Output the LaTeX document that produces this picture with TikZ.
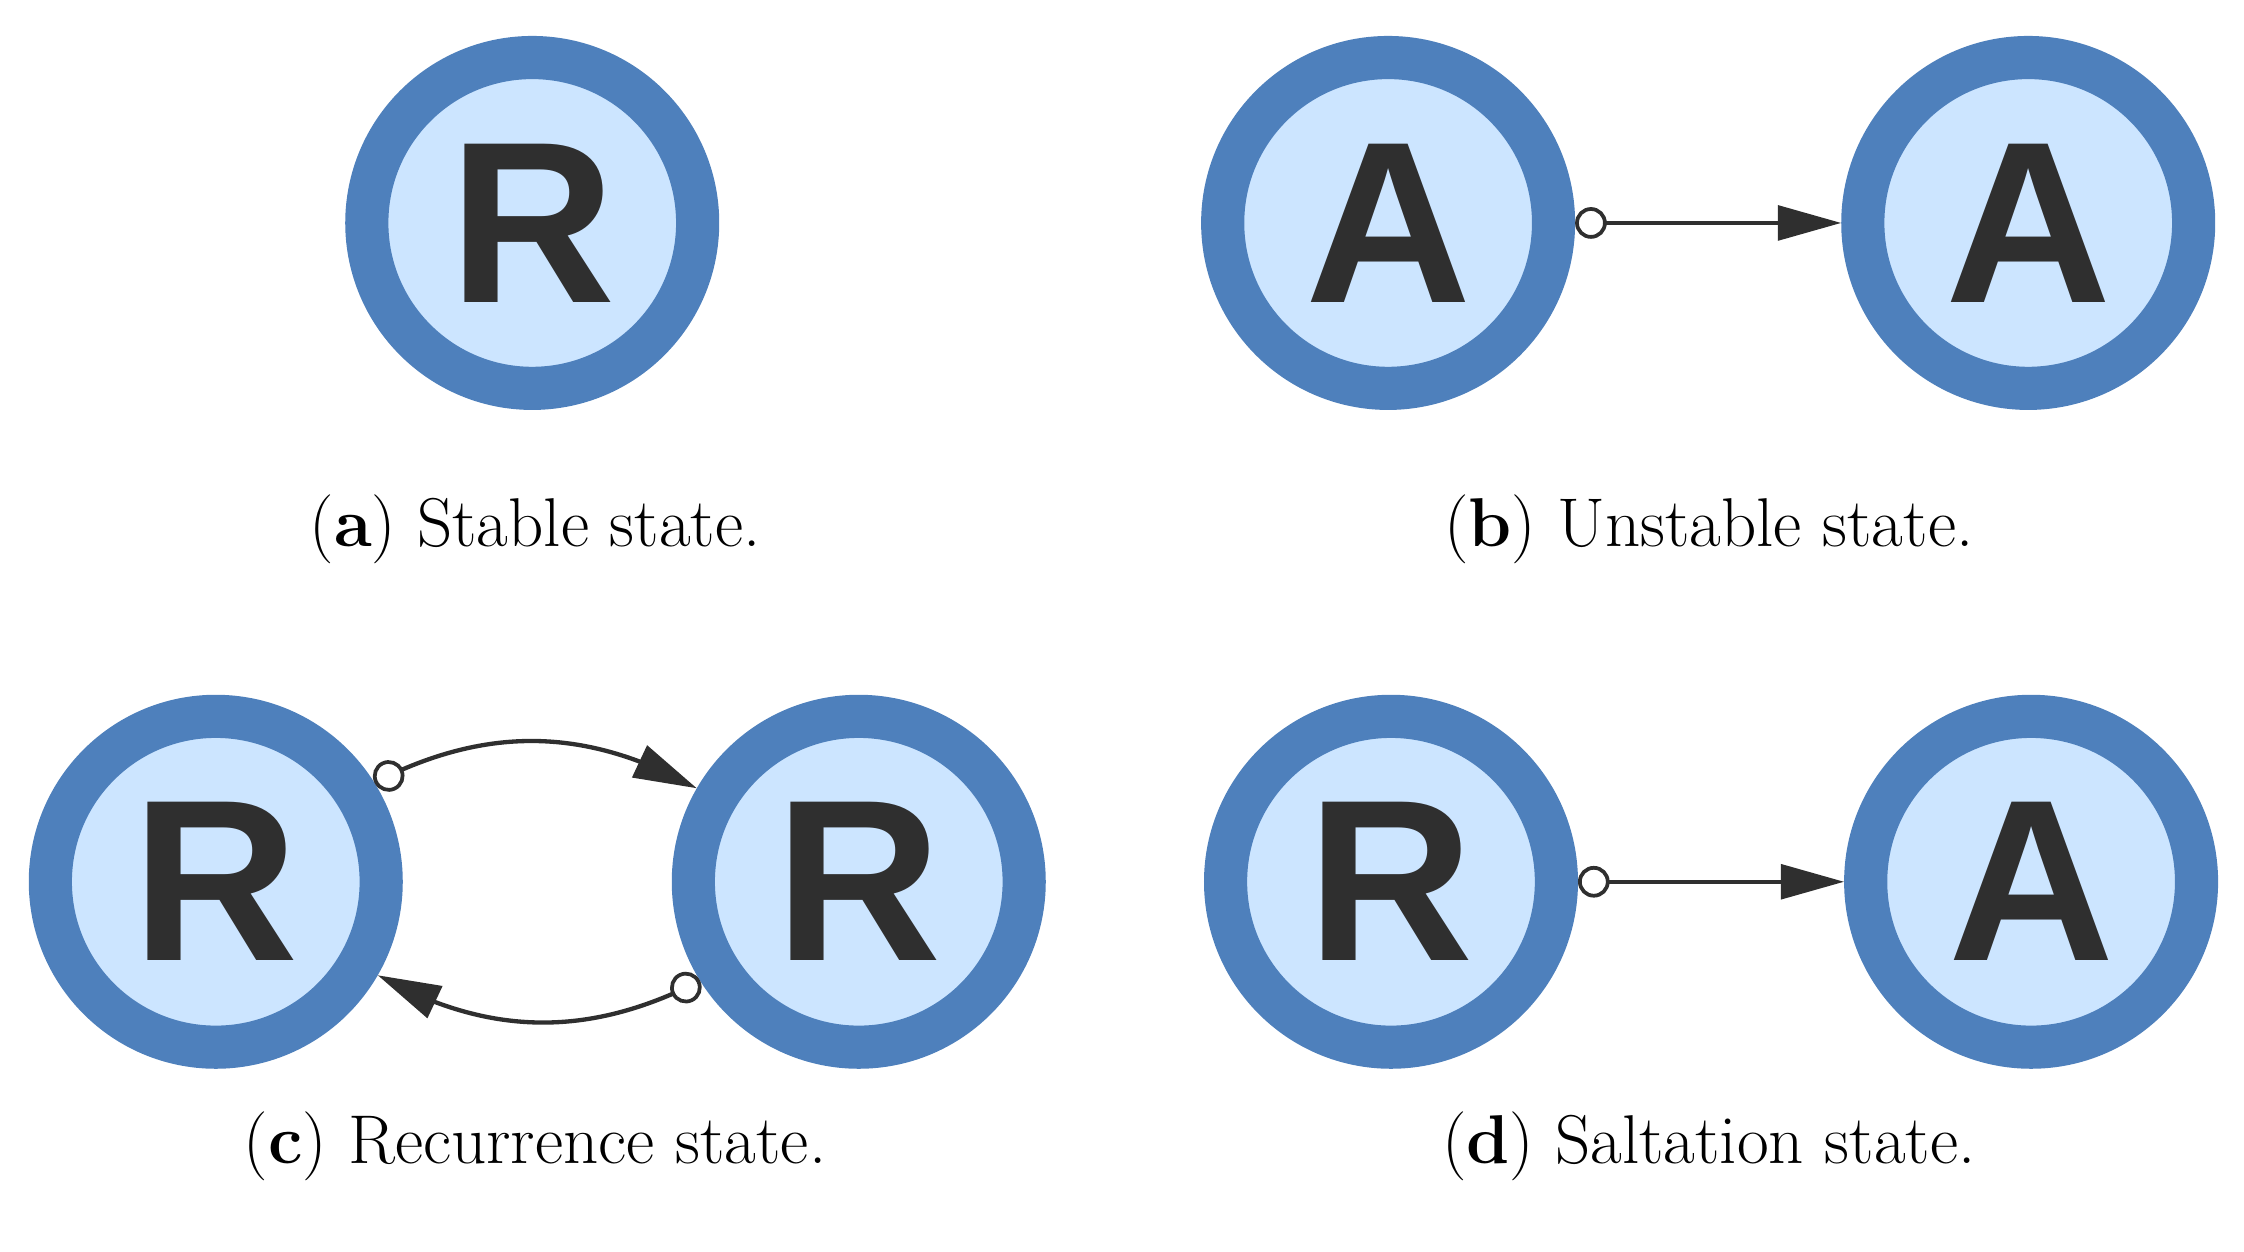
\documentclass[tikz,border=0pt]{standalone}
\usepackage{fontspec}
\newfontfamily\letterfont{Liberation Sans}
\usetikzlibrary{arrows.meta,bending}
\definecolor{ring}{HTML}{4E80BC}
\definecolor{fillc}{HTML}{CCE5FF}
\definecolor{ink}{HTML}{2F2F2F}
\begin{document}
\begin{tikzpicture}[x=0.5pt,y=-0.5pt,
  st/.style={circle,draw=ring,fill=fillc,line width=15pt,minimum size=115pt,inner sep=0pt,
    font=\letterfont\bfseries\fontsize{80}{80}\selectfont,text=ink},
  tr/.style={draw=ink,line width=1.5pt,{Circle[open,length=11pt,width=11pt,fill=white,line width=1.3pt]}-{Triangle[length=22pt,width=12pt]}},
  captxt/.style={font=\fontsize{24}{28}\selectfont,text=black}]
\useasboundingbox (0,0) rectangle (1560,870);
\node[st] (a) at (370,155) {R};
\node[st] (b1) at (965,155) {A};
\node[st] (b2) at (1410,155) {A};
\node[st] (c1) at (150,613) {R};
\node[st] (c2) at (597,613) {R};
\node[st] (d1) at (967,613) {R};
\node[st] (d2) at (1412,613) {A};
\draw[tr] (b1) -- (b2);
\draw[tr] (d1) -- (d2);
\draw[tr] (c1.32) to[bend left=28] (c2.150);
\draw[tr] (c2.-148) to[bend left=28] (c1.-30);
\node[captxt] (ca) at (372,368) {(\textbf{a}) Stable state.};
\node[captxt] (cb) at (1188,368) {(\textbf{b}) Unstable state.};
\node[captxt] (cc) at (372,797) {(\textbf{c}) Recurrence state.};
\node[captxt] (cd) at (1188,797) {(\textbf{d}) Saltation state.};
\end{tikzpicture}
\end{document}
